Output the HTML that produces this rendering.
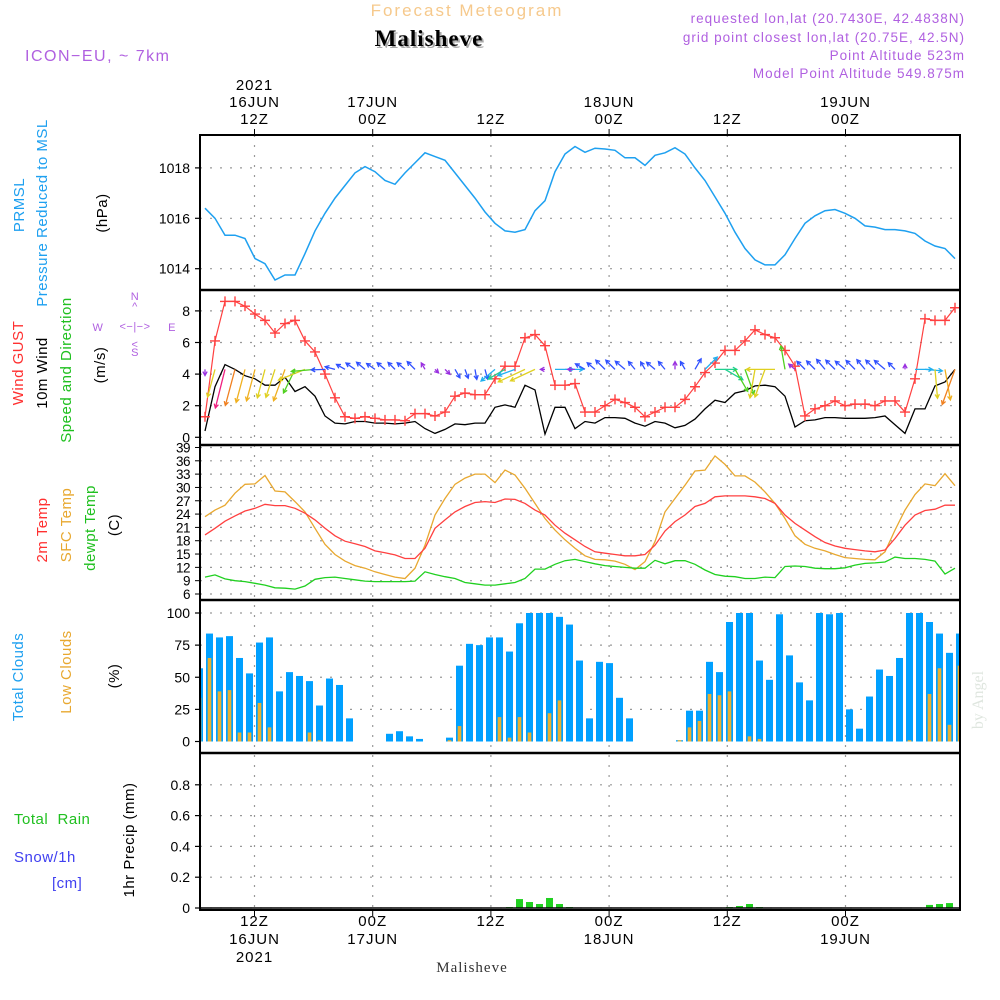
<!DOCTYPE html>
<html><head><meta charset="utf-8"><title>Meteogram Malisheve</title>
<style>
html,body{margin:0;padding:0;background:#fff;}
svg{display:block;font-family:"Liberation Sans",sans-serif;}
</style></head>
<body>
<svg id="chart" width="1000" height="1000" viewBox="0 0 1000 1000" xmlns="http://www.w3.org/2000/svg">
<text x="467" y="16" text-anchor="middle" font-size="17" fill="#f6c98c" letter-spacing="2">Forecast Meteogram</text>
<text x="431" y="48" text-anchor="middle" font-size="23" font-weight="bold" font-family="Liberation Serif, serif" fill="#aaa" letter-spacing="1">Malisheve</text>
<text x="429" y="46" text-anchor="middle" font-size="23" font-weight="bold" font-family="Liberation Serif, serif" fill="#000" letter-spacing="1">Malisheve</text>
<text x="25" y="61" font-size="16" fill="#b060e0" letter-spacing="1.5">ICON−EU, ~ 7km</text>
<g font-size="13.5" fill="#b060e0" text-anchor="end" letter-spacing="1">
<text x="965" y="23">requested lon,lat (20.7430E, 42.4838N)</text>
<text x="965" y="42">grid point closest lon,lat (20.75E, 42.5N)</text>
<text x="965" y="60">Point Altitude 523m</text>
<text x="965" y="78">Model Point Altitude 549.875m</text>
</g>
<g id="labels" font-size="15" letter-spacing="0.5">
<text transform="rotate(-90 24 205)" x="24" y="205" text-anchor="middle" fill="#1ea0f0">PRMSL</text>
<text transform="rotate(-90 47 213)" x="47" y="213" text-anchor="middle" fill="#1ea0f0">Pressure Reduced to MSL</text>
<text transform="rotate(-90 107 213)" x="107" y="213" text-anchor="middle" fill="#000">(hPa)</text>
<text transform="rotate(-90 23 363)" x="23" y="363" text-anchor="middle" fill="#ff3030">Wind GUST</text>
<text transform="rotate(-90 47 373)" x="47" y="373" text-anchor="middle" fill="#000">10m Wind</text>
<text transform="rotate(-90 71 370)" x="71" y="370" text-anchor="middle" fill="#20c020">Speed and Direction</text>
<text transform="rotate(-90 105 365)" x="105" y="365" text-anchor="middle" fill="#000">(m/s)</text>
<g font-size="11" fill="#b060e0" text-anchor="middle">
<text x="135" y="300">N</text><text x="135" y="310">^</text>
<text x="135" y="330">&lt;−|−&gt;</text>
<text x="98" y="331">W</text><text x="172" y="331">E</text>
<text x="135" y="348">&lt;</text><text x="135" y="356">S</text>
</g>
<text transform="rotate(-90 47 530)" x="47" y="530" text-anchor="middle" fill="#ff3030">2m Temp</text>
<text transform="rotate(-90 71 525)" x="71" y="525" text-anchor="middle" fill="#e8a830">SFC Temp</text>
<text transform="rotate(-90 95 528)" x="95" y="528" text-anchor="middle" fill="#20c020">dewpt Temp</text>
<text transform="rotate(-90 119 525)" x="119" y="525" text-anchor="middle" fill="#000">(C)</text>
<text transform="rotate(-90 23 677)" x="23" y="677" text-anchor="middle" fill="#1ea0f0">Total Clouds</text>
<text transform="rotate(-90 71 672)" x="71" y="672" text-anchor="middle" fill="#e8a830">Low Clouds</text>
<text transform="rotate(-90 119 676)" x="119" y="676" text-anchor="middle" fill="#000">(%)</text>
<text x="14" y="824" fill="#20c020" xml:space="preserve">Total  Rain</text>
<text x="14" y="862" fill="#4040f0">Snow/1h</text>
<text x="52" y="888" fill="#4040f0">[cm]</text>
<text transform="rotate(-90 134 840)" x="134" y="840" text-anchor="middle" fill="#000">1hr Precip (mm)</text>
</g>
<text x="472" y="972" text-anchor="middle" font-size="15" font-family="Liberation Serif, serif" fill="#333" letter-spacing="1">Malisheve</text>
<text transform="rotate(-90 983 700)" x="983" y="700" text-anchor="middle" font-size="16" font-family="Liberation Serif, serif" fill="#dfe6df">by Angel</text>
<g id="plot"></g>
</svg>
<script>
// ---- data (hourly, first point 07Z 16JUN 2021) ----
const pressure = [1016.4,1016.0,1015.33,1015.33,1015.2,1014.4,1014.2,1013.55,1013.75,1013.75,1014.6,1015.5,1016.2,1016.8,1017.3,1017.8,1018.05,1017.85,1017.5,1017.35,1017.8,1018.2,1018.6,1018.45,1018.3,1017.8,1017.3,1016.8,1016.25,1015.8,1015.5,1015.45,1015.55,1016.3,1016.7,1017.85,1018.55,1018.85,1018.62,1018.78,1018.75,1018.7,1018.4,1018.4,1018.1,1018.5,1018.6,1018.8,1018.55,1018.0,1017.5,1016.85,1016.2,1015.45,1014.8,1014.35,1014.15,1014.15,1014.55,1015.2,1015.8,1016.1,1016.3,1016.35,1016.2,1016.0,1015.7,1015.65,1015.55,1015.55,1015.5,1015.4,1015.1,1014.9,1014.8,1014.4];
const gust = [1.3,6.1,8.6,8.6,8.3,7.8,7.4,6.6,7.2,7.4,6.1,5.4,4.0,2.5,1.3,1.2,1.3,1.2,1.1,1.1,1.05,1.5,1.5,1.35,1.6,2.6,2.8,2.7,2.7,3.7,4.5,4.5,6.3,6.5,5.8,3.3,3.3,3.4,1.6,1.6,2.0,2.4,2.2,1.9,1.3,1.6,1.9,1.9,2.4,3.2,4.1,4.7,5.5,5.5,6.1,6.8,6.5,6.3,5.5,4.5,1.35,1.8,2.0,2.3,2.0,2.1,2.1,2.0,2.3,2.3,1.6,3.7,7.5,7.4,7.4,8.2];
const wind10m = [0.4,3.2,4.6,4.3,3.9,3.7,3.3,3.3,3.8,2.9,3.2,2.6,1.35,0.9,0.85,1.0,1.0,0.9,0.9,0.85,0.9,1.0,0.55,0.25,0.5,0.85,0.8,0.9,0.9,1.9,2.05,1.9,3.3,3.0,0.2,1.9,1.9,0.55,1.0,0.9,1.25,1.25,1.2,0.9,0.7,1.0,0.9,0.6,0.75,1.15,1.8,2.35,2.2,2.8,2.95,3.25,3.3,3.2,2.6,0.65,1.05,1.1,1.25,1.25,1.2,1.2,1.2,1.25,1.35,0.8,0.25,1.8,1.8,3.25,3.5,4.3];
const windDir = [180,195,194,195,195,195,195,198,200,206,248,265,268,285,300,305,310,305,310,315,310,315,330,135,135,150,160,170,165,230,240,250,245,245,270,90,90,270,300,310,315,315,310,320,330,310,320,0,330,30,45,90,120,150,160,190,200,270,350,310,315,315,320,315,310,315,320,315,310,315,0,90,95,175,170,200];
const temp2m = [19.3,20.8,22.4,23.6,24.7,25.3,26.2,25.9,25.9,25.3,24.2,22.7,20.8,19.1,17.9,17.3,16.7,15.7,15.3,14.8,14.0,14.0,16.3,20.8,22.7,24.5,25.7,26.6,26.8,26.6,27.4,27.3,26.4,24.9,23.8,21.5,19.7,18.2,16.7,15.5,15.2,14.9,14.6,14.6,14.9,17.0,20.2,22.3,23.8,25.7,26.4,27.9,28.1,28.1,28.1,27.9,27.5,26.4,23.8,21.9,20.4,18.9,17.6,16.8,16.3,16.0,15.7,15.5,15.9,18.5,21.5,23.8,24.8,25.1,26.0,26.0];
const tempSfc = [23.4,24.9,26.0,28.7,30.7,30.8,32.7,29.2,29.0,26.8,24.5,20.8,17.2,14.9,13.4,12.4,11.8,11.0,10.4,9.8,9.5,11.8,17.0,23.8,27.5,30.7,32.1,33.0,33.0,31.1,33.9,32.8,29.8,26.4,23.0,20.4,18.2,16.3,14.6,13.8,13.7,13.4,12.7,11.5,13.3,17.8,24.5,27.5,30.5,33.7,33.9,37.1,35.2,32.6,32.6,31.2,29.0,26.4,23.0,19.1,17.2,16.3,15.7,14.9,14.2,14.0,13.8,13.7,15.5,20.4,24.9,28.4,30.8,30.4,33.1,30.4];
const dewpt = [9.8,10.3,9.4,9.0,8.8,8.4,8.0,7.4,7.3,7.1,7.8,9.3,9.7,9.8,9.5,9.2,8.9,8.8,8.8,8.8,8.8,8.9,11.0,10.4,9.9,9.5,8.6,8.3,8.0,8.0,8.3,8.6,9.5,11.6,11.6,12.7,13.5,13.8,13.3,12.8,12.4,12.2,12.0,11.8,11.8,13.6,12.8,13.5,13.5,12.7,11.4,10.4,10.0,9.9,9.5,9.5,9.8,9.7,12.2,12.3,12.2,11.8,11.7,11.7,11.9,12.5,12.9,13.0,13.2,14.3,14.0,14.0,13.8,13.4,10.5,11.8];
// cloud bars start one slot before first line point
const totalClouds = [57,84,81,82,65,53,77,81,39,54,51,47,28,49,44,18,0,0,0,6,8,4,2,0,0,3,59,76,75,81,81,70,92,100,100,100,97,91,63,18,62,61,34,18,0,0,0,0,1,24,24,62,54,93,100,100,63,48,99,67,46,32,100,99,100,25,10,35,56,51,65,100,100,93,84,69,84];
const lowClouds = [34,65,39,40,7,7,30,11,0,0,0,7,1,0,0,0,0,0,0,0,0,0,0,0,0,1,12,0,0,0,19,3,19,7,0,22,32,0,0,0,0,0,0,0,0,0,0,0,1,11,16,37,36,39,0,4,2,0,0,0,0,0,0,0,0,0,0,0,0,0,0,1,0,37,57,13,59];
const precip = [0,0,0,0,0,0,0,0,0,0,0,0,0,0,0,0,0,0,0,0,0,0,0,0,0,0,0,0,0,0,0,0.006,0.058,0.039,0.026,0.065,0.026,0.006,0,0,0,0,0,0,0,0,0,0,0,0,0,0,0,0.006,0.013,0.026,0.006,0,0,0.002,0,0,0,0,0,0,0,0,0,0,0,0,0,0.02,0.026,0.032,0];
const timeTickHours = [12,24,36,48,60,72];
const topTickLabels = [["2021","16JUN","12Z"],["17JUN","00Z"],["12Z"],["18JUN","00Z"],["12Z"],["19JUN","00Z"]];
const bottomTickLabels = [["12Z","16JUN","2021"],["00Z","17JUN"],["12Z"],["00Z","18JUN"],["12Z"],["00Z","19JUN"]];
const pressureTicks = [1014,1016,1018];
const windTicks = [0,2,4,6,8];
const tempTicks = [6,9,12,15,18,21,24,27,30,33,36,39];
const cloudTicks = [0,25,50,75,100];
const precipTicks = [0,0.2,0.4,0.6,0.8];
const precipTickLabels = ["0","0.2","0.4","0.6","0.8"];

// ---- layout / scales ----
const NS='http://www.w3.org/2000/svg';
const L=200,R=960;
const P={p:[135,290],w:[290,445],t:[445,600],c:[600,753],r:[753,910]};
const xi = i => 205 + 10*i;                 // data index -> x
const xh = h => 254.5 + (h-12)*9.85;        // hours since 00Z 16JUN -> x
const yP = v => 218.3 - (v-1016)*25.2;
const yW = v => 437.3 - v*15.8;
const yT = v => 594 - (v-6)*4.44;
const yC = v => 741.5 - v*1.285;
const yR = v => 908 - v*154;
const plot=document.getElementById('plot');
function el(tag,attrs,parent){const e=document.createElementNS(NS,tag);for(const k in attrs)e.setAttribute(k,attrs[k]);(parent||plot).appendChild(e);return e;}
function txt(s,attrs,parent){const e=el('text',attrs,parent);e.textContent=s;return e;}

// clip
const defs=el('defs',{});
const cp=el('clipPath',{id:'clip'},defs);
el('rect',{x:L,y:135,width:R-L,height:775},cp);

// grid
const grid=el('g',{stroke:'#999','stroke-width':1.2,'stroke-dasharray':'2 8'});


timeTickHours.forEach(h=>{el('line',{x1:xh(h),x2:xh(h),y1:135,y2:910},grid);});
function hgrid(vals,f){vals.forEach(v=>{const y=f(v);el('line',{x1:L,x2:R,y1:y,y2:y},grid);});}
hgrid(pressureTicks,yP);hgrid(windTicks,yW);hgrid(tempTicks,yT);hgrid(cloudTicks.slice(1),yC);hgrid(precipTicks,yR);

// cloud bars
const cg=el('g',{'clip-path':'url(#clip)'});


totalClouds.forEach((v,k)=>{const cx=xi(k-1)+4.5;
 const b=el('rect',{x:cx-3.5,y:yC(v),width:7,height:Math.max(0,yC(0)-yC(v)),fill:'#00a0ff'},cg);
 
 
 const lv=lowClouds[k];
 if(lv>0){const lb=el('rect',{x:cx-1.8,y:yC(lv),width:3.6,height:yC(0)-yC(lv),fill:'#e8b030'},cg);
 
 }
});
// precip bars
const pg=el('g',{'clip-path':'url(#clip)'});


precip.forEach((v,k)=>{if(v<=0)return;const cx=xi(k-1)+4.5;
 const b=el('rect',{x:cx-3.5,y:yR(v),width:7,height:yR(0)-yR(v),fill:'#20d020'},pg);
 
 });
el('line',{x1:L,x2:R,y1:908,y2:908,stroke:'#000','stroke-width':1.5});

// lines
function series(arr,f,color,name,w){const pts=arr.map((v,i)=>xi(i).toFixed(1)+','+f(v).toFixed(1)).join(' ');
 const pl=el('polyline',{points:pts,fill:'none',stroke:color,'stroke-width':w||1.3,'clip-path':'url(#clip)'});
 
 return pl;}
series(pressure,yP,'#1ea0f0','pressure-line',1.5);
series(wind10m,yW,'#000','wind-10m-line',1.3);
series(gust,yW,'#ff4040','wind-gust-line',1.2);
const gm=el('g',{stroke:'#ff4040','stroke-width':1.4});


gust.forEach((v,i)=>{const x=xi(i),y=yW(v);el('path',{d:`M${x-5} ${y}H${x+5}M${x} ${y-5}V${y+5}`},gm);});
series(tempSfc,yT,'#e8a830','sfc-temp-line',1.3);
series(temp2m,yT,'#ff4040','temp-2m-line',1.3);
series(dewpt,yT,'#20d020','dewpt-line',1.3);

// wind arrows
function wcol(s){if(s<0.7)return '#9a30e0';if(s<1.5)return '#3050ff';if(s<1.95)return '#20b0f0';if(s<2.5)return '#20d090';if(s<3.0)return '#50d020';if(s<3.5)return '#e0d020';if(s<4.0)return '#f0b020';if(s<4.45)return '#f08020';return '#f02080';}
const ag=el('g',{'clip-path':'url(#clip)','stroke-width':1.3,fill:'none'});


windDir.forEach((d,i)=>{const s=wind10m[i];const Lh=3+8*s;const a=d*Math.PI/180;
 const x0=xi(i),y0=yW(4.3);const x1=x0+Lh*Math.sin(a),y1=y0-Lh*Math.cos(a);
 const hx=-Math.sin(a),hy=Math.cos(a);const hs=4.5;
 const c=wcol(s);
 const p1=[x1+hs*(hx*Math.cos(0.5)-hy*Math.sin(0.5)),y1+hs*(hx*Math.sin(0.5)+hy*Math.cos(0.5))];
 const p2=[x1+hs*(hx*Math.cos(-0.5)-hy*Math.sin(-0.5)),y1+hs*(hx*Math.sin(-0.5)+hy*Math.cos(-0.5))];
 el('path',{d:`M${x0} ${y0}L${x1} ${y1}M${p1[0]} ${p1[1]}L${x1} ${y1}L${p2[0]} ${p2[1]}`,stroke:c},ag);
});

// frames
const fr=el('g',{fill:'none',stroke:'#000','stroke-width':2});


el('rect',{x:L,y:135,width:R-L,height:775},fr);
[290,445,600,753].forEach(y=>el('line',{x1:L,x2:R,y1:y,y2:y,'stroke-width':2.5},fr));

// y axis ticks & labels
const ax=el('g',{'font-size':14,fill:'#000','text-anchor':'end'});


function yaxis(vals,f,labels){vals.forEach((v,k)=>{const y=f(v);el('line',{x1:L-5,x2:L,y1:y,y2:y,stroke:'#000','stroke-width':1.2},ax);
 txt(labels?labels[k]:String(v),{x:L-10,y:y+5},ax);});}
yaxis(pressureTicks,yP);yaxis(windTicks,yW);
const tg=el('g',{'font-size':13.5,fill:'#000','text-anchor':'end'});


tempTicks.forEach(v=>{const y=yT(v);el('line',{x1:L-5,x2:L,y1:y,y2:y,stroke:'#000'},tg);txt(String(v),{x:L-10,y:y+5,'letter-spacing':-0.5},tg);});
yaxis(cloudTicks,yC);yaxis(precipTicks,yR,precipTickLabels);

// time ticks
const xt=el('g',{'font-size':15,fill:'#000','text-anchor':'middle','letter-spacing':1});


timeTickHours.forEach((h,k)=>{const x=xh(h);
 el('line',{x1:x,x2:x,y1:129,y2:135,stroke:'#000'},xt);
 el('line',{x1:x,x2:x,y1:910,y2:916,stroke:'#000'},xt);
 const tl=topTickLabels[k];tl.forEach((s,j)=>txt(s,{x:x,y:127-(tl.length-1-j)*17-3},xt));
 bottomTickLabels[k].forEach((s,j)=>txt(s,{x:x,y:924+j*18+2},xt));
});
</script>
</body></html>
